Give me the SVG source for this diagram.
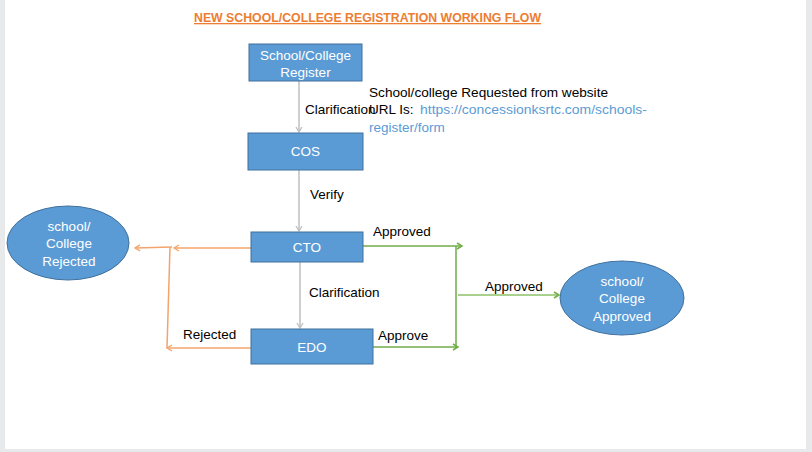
<svg xmlns="http://www.w3.org/2000/svg" width="812" height="452" viewBox="0 0 812 452">
<style>
.t{font-family:"Liberation Sans",Arial,sans-serif;font-size:13.5px;fill:#000}
.w{font-family:"Liberation Sans",Arial,sans-serif;font-size:13.5px;fill:#fff;text-anchor:middle}
.box{fill:#5b9bd5;stroke:#41719c;stroke-width:1}
.link{fill:#5b9bd5}
.g{stroke:#bfbfbf;stroke-width:1.5;fill:none}
.o{stroke:#f4a46b;stroke-width:1.5;fill:none}
.gr{stroke:#70ad47;stroke-width:1.5;fill:none}
</style>
<defs>
<marker id="ag" markerWidth="10" markerHeight="10" refX="8" refY="5" orient="auto" markerUnits="userSpaceOnUse"><polyline points="3,2 8,5 3,8" fill="none" stroke="#bfbfbf" stroke-width="1.3"/></marker>
<marker id="ao" markerWidth="10" markerHeight="10" refX="8" refY="5" orient="auto" markerUnits="userSpaceOnUse"><polyline points="3,2 8,5 3,8" fill="none" stroke="#f4a46b" stroke-width="1.3"/></marker>
<marker id="agr" markerWidth="10" markerHeight="10" refX="8" refY="5" orient="auto" markerUnits="userSpaceOnUse"><polyline points="3,2 8,5 3,8" fill="none" stroke="#70ad47" stroke-width="1.5"/></marker>
</defs>
<rect x="0" y="0" width="812" height="452" fill="#e8e9eb"/>
<rect x="5" y="0" width="801" height="449" fill="#ffffff"/>
<text x="194" y="22" font-family="Liberation Sans,Arial,sans-serif" font-size="13" font-weight="bold" fill="#ed7d31" text-decoration="underline" textLength="347" lengthAdjust="spacingAndGlyphs">NEW SCHOOL/COLLEGE REGISTRATION WORKING FLOW</text>

<g id="connectors">
<line class="g" x1="299" y1="81" x2="299" y2="132" marker-end="url(#ag)"/>
<line class="g" x1="299" y1="170" x2="299" y2="231" marker-end="url(#ag)"/>
<line class="g" x1="300" y1="262" x2="300" y2="328" marker-end="url(#ag)"/>
<line class="o" x1="251" y1="248" x2="174" y2="248" marker-end="url(#ao)"/>
<line class="o" x1="172" y1="247" x2="135" y2="248" marker-end="url(#ao)"/>
<line class="o" x1="170" y1="247" x2="167" y2="348"/>
<line class="o" x1="251" y1="348" x2="167" y2="348" marker-end="url(#ao)"/>
<line class="gr" x1="363" y1="246" x2="462" y2="246" stroke-width="2.5" marker-end="url(#agr)"/>
<line class="gr" x1="456" y1="246" x2="456" y2="348"/>
<line class="gr" x1="373" y1="347" x2="458" y2="347" marker-end="url(#agr)"/>
<line x1="458" y1="295" x2="559" y2="295" stroke="#a9d18e" stroke-width="1.8" marker-end="url(#agr)"/>
<text class="t" x="305" y="114">Clarification</text>
<text class="t" x="310" y="199">Verify</text>
<text class="t" x="309" y="297">Clarification</text>
<text class="t" x="373" y="236">Approved</text>
<text class="t" x="485" y="291">Approved</text>
<text class="t" x="378" y="340">Approve</text>
<text class="t" x="183" y="339">Rejected</text>
</g>

<g id="note">
<text class="t" x="369" y="97" textLength="239" lengthAdjust="spacingAndGlyphs">School/college Requested from website</text>
<text class="t" x="369" y="114">URL Is:</text>
<text class="t link" x="420" y="114" textLength="227" lengthAdjust="spacingAndGlyphs">https://concessionksrtc.com/schools-</text>
<text class="t link" x="369" y="132">register/form</text>
</g>

<g id="register">
<rect class="box" x="249" y="44" width="113" height="37"/>
<text class="w" x="305.5" y="60">School/College</text>
<text class="w" x="305.5" y="77">Register</text>
</g>
<g id="cos">
<rect class="box" x="248" y="133" width="115" height="37"/>
<text class="w" x="305.5" y="156">COS</text>
</g>
<g id="cto">
<rect class="box" x="251" y="232" width="112" height="30"/>
<text class="w" x="307" y="252">CTO</text>
</g>
<g id="edo">
<rect class="box" x="251" y="329" width="122" height="35"/>
<text class="w" x="312" y="352">EDO</text>
</g>
<g id="rejected">
<ellipse class="box" cx="68" cy="243" rx="61" ry="37"/>
<text class="w" x="69" y="231">school/</text>
<text class="w" x="69" y="248">College</text>
<text class="w" x="69" y="266">Rejected</text>
</g>
<g id="approved">
<ellipse class="box" cx="622" cy="298" rx="62" ry="37"/>
<text class="w" x="622" y="286">school/</text>
<text class="w" x="622" y="303">College</text>
<text class="w" x="622" y="321">Approved</text>
</g>
</svg>
